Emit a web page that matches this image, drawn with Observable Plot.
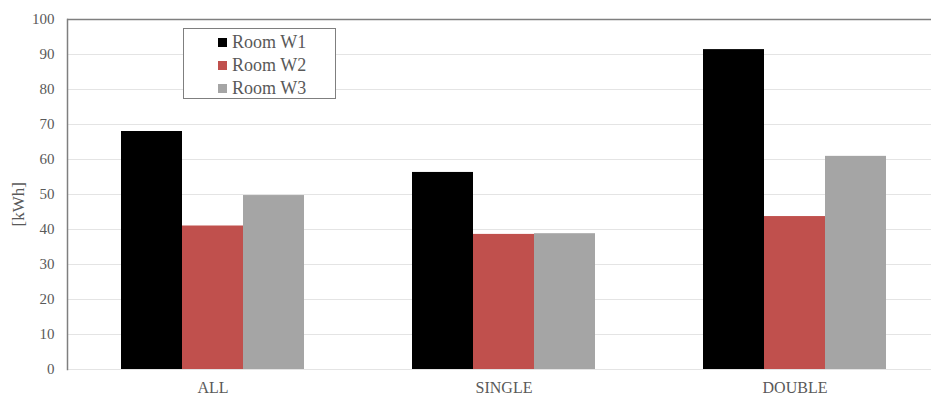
<!DOCTYPE html>
<html>
<head>
<meta charset="utf-8">
<script src="https://cdn.jsdelivr.net/npm/d3@7"></script>
<script src="https://cdn.jsdelivr.net/npm/@observablehq/plot@0.6"></script>
<style>
  html, body { margin: 0; padding: 0; background: #fff; }
  #wrap { position: relative; width: 931px; height: 397px; overflow: hidden; }
  #legend { position: absolute; left: 183px; top: 28px; width: 153px; height: 71px;
    border: 1px solid #7f7f7f; background: #fff; font-family: "Liberation Serif", "Times New Roman", serif;
    font-size: 18px; color: #595959; box-sizing: border-box; }
  .row { position: absolute; left: 34px; height: 20px; line-height: 20px; white-space: nowrap; }
  .sw { display: inline-block; width: 9px; height: 9px; margin-right: 5px; vertical-align: 1px; }
</style>
</head>
<body>
<div id="wrap"></div>
<script>
const categories = ["ALL", "SINGLE", "DOUBLE"];
const rooms = ["Room W1", "Room W2", "Room W3"];
const roomW1 = [68.0, 56.3, 91.4];
const roomW2 = [41.0, 38.6, 43.7];
const roomW3 = [49.7, 38.8, 60.9];
const colors = ["#000000", "#C0504D", "#A5A5A5"];
const yTicks = [0, 10, 20, 30, 40, 50, 60, 70, 80, 90, 100];
const yLabel = "[kWh]";

const series = [roomW1, roomW2, roomW3];
const data = categories.flatMap((c, i) => rooms.map((r, j) => ({category: c, room: r, value: series[j][i]})));

const chart = Plot.plot({
  width: 931, height: 397,
  marginLeft: 67, marginRight: -9, marginTop: 19, marginBottom: 28,
  style: {fontFamily: "'Liberation Serif', serif", fontSize: "15px", color: "#595959", background: "#fff"},
  fx: {domain: categories, padding: 0, label: null, axis: null},
  x: {domain: rooms, paddingInner: 0, paddingOuter: 0.885, axis: null},
  y: {domain: [0, 100], label: null, axis: null},
  color: {domain: rooms, range: colors},
  marks: [
    Plot.gridY(yTicks, {stroke: "#e4e4e4", strokeOpacity: 1, strokeWidth: 1.2}),
    Plot.barY(data, {fx: "category", x: "room", y: "value", fill: "room"}),
    Plot.ruleY([100], {stroke: "#7f7f7f", strokeWidth: 1.5}),
    Plot.frame({anchor: "left", facetAnchor: "left", stroke: "#7f7f7f", strokeWidth: 1.5}),
    Plot.axisY(yTicks, {tickSize: 0, tickPadding: 13, label: null, fontSize: 15, tickFormat: d => String(d)}),
    Plot.axisFx({anchor: "bottom", tickSize: 0, tickPadding: 12, label: null, fontSize: 16}),
    Plot.text([yLabel], {text: d => d, frameAnchor: "left", facetAnchor: "left", dx: -49, dy: 32, rotate: -90, fontSize: 17, fill: "#595959"})
  ]
});

const wrap = document.getElementById("wrap");
wrap.appendChild(chart);

const legend = document.createElement("div");
legend.id = "legend";
rooms.forEach((r, i) => {
  const row = document.createElement("div");
  row.className = "row";
  row.style.top = (3 + i * 23) + "px";
  const sw = document.createElement("span");
  sw.className = "sw";
  sw.style.background = colors[i];
  row.appendChild(sw);
  row.appendChild(document.createTextNode(r));
  legend.appendChild(row);
});
wrap.appendChild(legend);
</script>
</body>
</html>
